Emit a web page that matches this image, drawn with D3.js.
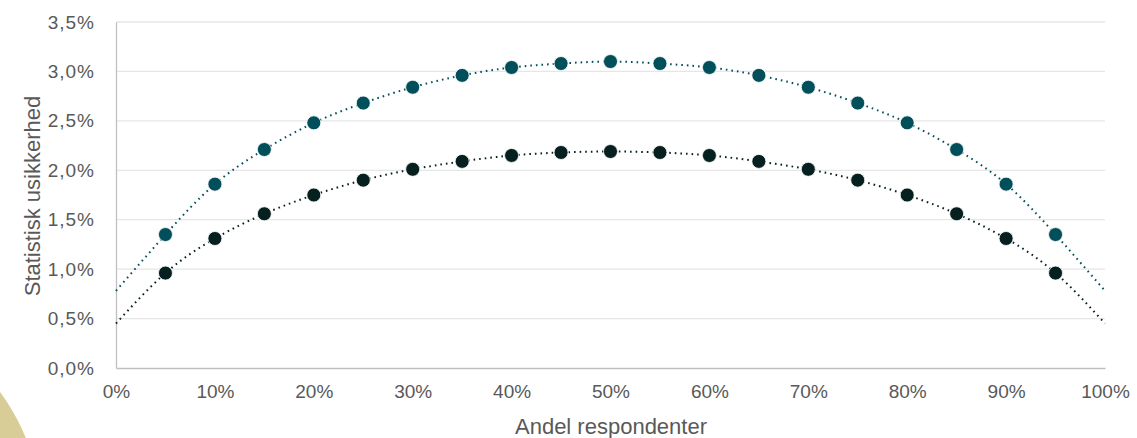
<!DOCTYPE html>
<html><head><meta charset="utf-8">
<script src="https://cdn.jsdelivr.net/npm/d3@7"></script>
<style>body{margin:0;background:#fff;}svg{display:block;font-family:"Liberation Sans",Arial,sans-serif;}</style>
</head><body>
<svg id="c" width="1137" height="438"></svg>
<script>
const shares = [5,10,15,20,25,30,35,40,45,50,55,60,65,70,75,80,85,90,95];
const seriesTop = [1.35,1.86,2.21,2.48,2.68,2.84,2.96,3.04,3.08,3.10,3.08,3.04,2.96,2.84,2.68,2.48,2.21,1.86,1.35];
const seriesBottom = [0.96,1.31,1.56,1.75,1.90,2.01,2.09,2.15,2.18,2.19,2.18,2.15,2.09,2.01,1.90,1.75,1.56,1.31,0.96];
const trendX = [0,5,10,15,20,25,30,35,40,45,50,55,60,65,70,75,80,85,90,95,100];
const trendTop = [0.78,1.35,1.86,2.21,2.48,2.68,2.84,2.96,3.04,3.08,3.10,3.08,3.04,2.96,2.84,2.68,2.48,2.21,1.86,1.35,0.78];
const trendBottom = [0.45,0.96,1.31,1.56,1.75,1.90,2.01,2.09,2.15,2.18,2.19,2.18,2.15,2.09,2.01,1.90,1.75,1.56,1.31,0.96,0.45];
const yTicks = [0,0.5,1,1.5,2,2.5,3,3.5];
const xTicks = [0,10,20,30,40,50,60,70,80,90,100];
const xTitle = "Andel respondenter";
const yTitle = "Statistisk usikkerhed";

const svg = d3.select("#c");
// decoration
svg.append("circle").attr("cx",-160).attr("cy",512).attr("r",200).attr("fill","#d8cd96");

const x = d3.scaleLinear().domain([0,100]).range([116,1105]);
const y = d3.scaleLinear().domain([0,3.5]).range([368,22]);

const fmtY = d => d.toFixed(1).replace(".", ",") + "%";

// grid
svg.append("g").selectAll("line").data(yTicks.slice(1)).join("line")
  .attr("x1",x(0)).attr("x2",x(100)).attr("y1",d=>y(d)).attr("y2",d=>y(d))
  .attr("stroke","#e6e6e6").attr("stroke-width",1.3);

// y axis
const ya = svg.append("g").attr("transform",`translate(${x(0)},0)`)
  .call(d3.axisLeft(y).tickValues(yTicks).tickFormat(fmtY).tickSize(0).tickPadding(21));
ya.select(".domain").attr("stroke","#bfbfbf").attr("stroke-width",1.3);
ya.selectAll("text").attr("fill","#595959").attr("font-size",19).attr("letter-spacing",1)
  .attr("font-family","Liberation Sans, Arial, sans-serif");

// x axis
const xa = svg.append("g").attr("transform",`translate(0,${y(0)})`)
  .call(d3.axisBottom(x).tickValues(xTicks).tickFormat(d=>d+"%").tickSize(0).tickPadding(17));
xa.select(".domain").attr("stroke","#bfbfbf").attr("stroke-width",1.3);
xa.selectAll("text").attr("fill","#595959").attr("font-size",19)
  .attr("font-family","Liberation Sans, Arial, sans-serif");

// titles
svg.append("text").attr("x",611).attr("y",434).attr("text-anchor","middle")
  .attr("fill","#595959").attr("font-size",22).text(xTitle);
svg.append("text").attr("transform","translate(40,196) rotate(-90)").attr("text-anchor","middle")
  .attr("fill","#595959").attr("font-size",22).text(yTitle);

const line = d3.line().x(d=>x(d[0])).y(d=>y(d[1])).curve(d3.curveNatural);
const series = [
  {trend: trendTop, vals: seriesTop, color:"#014f5a"},
  {trend: trendBottom, vals: seriesBottom, color:"#05201f"}
];
series.forEach(s=>{
  svg.append("path").datum(trendX.map((v,i)=>[v,s.trend[i]]))
    .attr("d",line).attr("fill","none").attr("stroke",s.color)
    .attr("stroke-width",2).attr("stroke-dasharray","1.6,4");
});
series.forEach(s=>{
  svg.append("g").selectAll("circle").data(shares.map((v,i)=>[v,s.vals[i]])).join("circle")
    .attr("cx",d=>x(d[0])).attr("cy",d=>y(d[1])).attr("r",7)
    .attr("fill",s.color).attr("stroke","#fff").attr("stroke-width",0.8);
});
</script>
</body></html>
